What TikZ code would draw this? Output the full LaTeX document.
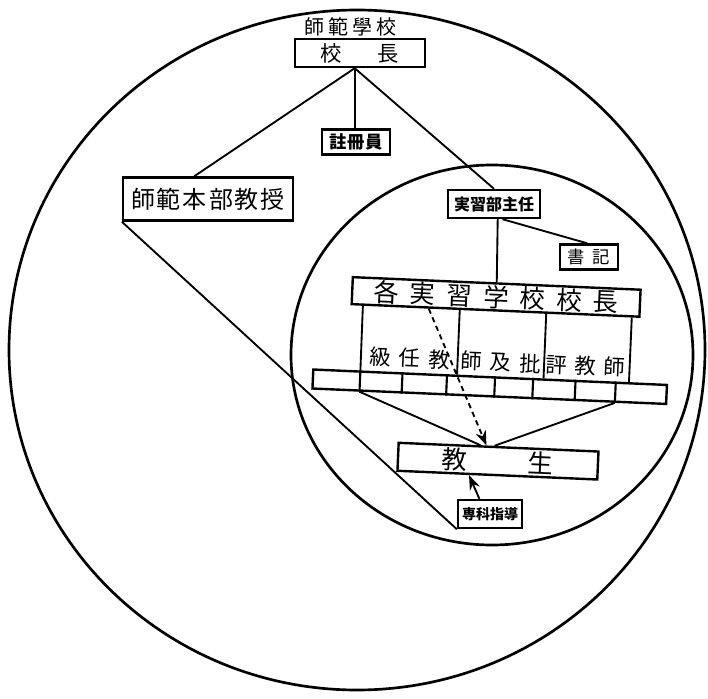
\documentclass[tikz,border=0pt]{standalone}
\usepackage{fontspec}
\newfontfamily\cjk{Noto Sans CJK JP}
\usetikzlibrary{calc,arrows.meta}
\newcommand\cgap[1]{\hspace{#1}}
\newcommand\fs[1]{\fontsize{#1}{#1}\selectfont}
\begin{document}
\begin{tikzpicture}[x=0.75pt,y=-0.75pt,
  box/.style={draw, line width=1.8pt, inner sep=0pt, font=\cjk},
  conn/.style={line width=1.4pt},
  ring/.style={line width=2pt},
  tip/.style={-{Stealth[length=11pt,width=8pt]}}]
\useasboundingbox (0,0) rectangle (708,699);
% circles
\draw[ring] (357,350) ellipse [x radius=348, y radius=340];
\draw[ring] (492,355) ellipse [x radius=201, y radius=190];
% top part
\node[font=\cjk\fs{15pt}] (title) at (350,27) {師\cgap{3pt}範\cgap{3pt}學\cgap{3pt}校};
\node[box, minimum width=97.5pt, minimum height=21pt, font=\cjk\fs{16pt}] (kocho) at (360,53) {校\cgap{27pt}長\cgap{12.8pt}};
\node[box, minimum width=51pt, minimum height=18.75pt, font=\cjk\bfseries\fs{13pt}] (reg) at (356,142) {註\cgap{0.5pt}冊\cgap{0.5pt}員};
\node[box, minimum width=127.5pt, minimum height=32.25pt, font=\cjk\fs{18pt}] (prof) at (208,199) {師\cgap{1.5pt}範\cgap{1.5pt}本\cgap{1.5pt}部\cgap{1.5pt}教\cgap{1.5pt}授};
\node[box, minimum width=69pt, minimum height=21pt, font=\cjk\bfseries\fs{12pt}] (jsh) at (494,204) {実習部主任};
\node[box, minimum width=43.5pt, minimum height=18.75pt, font=\cjk\fs{13pt}] (shoki) at (589,257) {書\cgap{6pt}記};
\coordinate (kc) at ($(kocho.south west)!0.46!(kocho.south east)$);
\draw[conn] (kc) -- ($(prof.north west)!0.42!(prof.north east)$);
\draw[conn] (kc) -- (kc |- reg.north);
\draw[conn] (kc) -- (jsh.north);
\draw[conn] ($(jsh.south west)!0.59!(jsh.south east)$) -- ($(shoki.north west)!0.47!(shoki.north east)$);
% inner structure, slightly slanted
\begin{scope}[rotate around={-2.5:(496,380)}, transform shape]
\node[box, minimum width=216pt, minimum height=20.25pt, font=\cjk\fs{19pt}] (kaku) at (492.5,297) {各\cgap{8.5pt}実\cgap{8.5pt}習\cgap{8.5pt}学\cgap{8.5pt}校\cgap{8.5pt}校\cgap{8.5pt}長};
\node[box, minimum width=265.5pt, minimum height=14.25pt] (strip) at (490,387) {};
\foreach \g in {0.1356,0.254,0.379,0.514,0.621,0.740,0.853}
  \draw[line width=1.6pt] ($(strip.north west)!\g!(strip.north east)$) -- ($(strip.south west)!\g!(strip.south east)$);
\node[font=\cjk\fs{16pt}] (t1) at (409,362) {級\cgap{6pt}任\cgap{6pt}教};
\node[font=\cjk\fs{16pt}] (t2) at (500,362) {師\cgap{6pt}及\cgap{6pt}批};
\node[font=\cjk\fs{16pt}] (t3) at (585,362) {評\cgap{6pt}教\cgap{6pt}師};
\node[box, minimum width=150pt, minimum height=21pt, font=\cjk\fs{19pt}] (kyosei) at (501.5,461) {教\cgap{45.5pt}生\cgap{19.5pt}};
\foreach \f/\g in {0.043/0.1356, 0.377/0.407, 0.675/0.650, 0.970/0.890}
  \draw[conn] ($(kaku.south west)!\f!(kaku.south east)$) -- ($(strip.north west)!\g!(strip.north east)$);
\draw[conn] ($(strip.south west)!0.1356!(strip.south east)$) -- ($(kyosei.north west)!0.41!(kyosei.north east)$);
\draw[conn] ($(strip.south west)!0.853!(strip.south east)$) -- ($(kyosei.north west)!0.48!(kyosei.north east)$);
\draw[conn, dash pattern=on 4pt off 3pt, tip] ($(kaku.south west)!0.27!(kaku.south east)$) -- ($(kyosei.north west)!0.44!(kyosei.north east)$);
\end{scope}
\draw[conn] (jsh.south -| 497.7,0) -- (kaku.north);
\node[box, minimum width=48pt, minimum height=21pt, font=\cjk\bfseries\fs{10.5pt}] (jk) at (490,514) {専科指導};
\draw[conn, tip] ($(jk.north west)!0.34!(jk.north east)$) -- ($(kyosei.south west)!0.36!(kyosei.south east)$);
\draw[conn] (prof.south west) -- (jk.south west);
\end{tikzpicture}
\end{document}
